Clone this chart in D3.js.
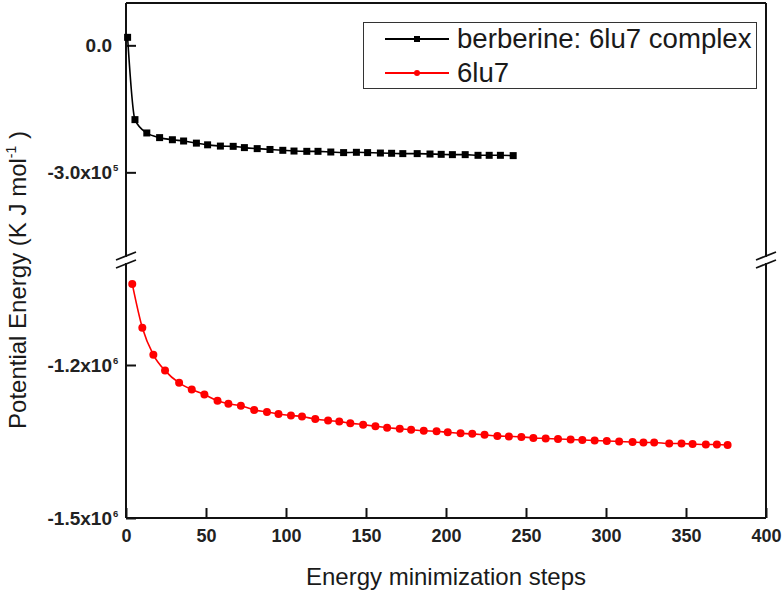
<!DOCTYPE html>
<html>
<head>
<meta charset="utf-8">
<script src="https://cdn.jsdelivr.net/npm/d3@7"></script>
<style>
  html, body { margin: 0; padding: 0; background: #fff; }
  svg { display: block; font-family: "Liberation Sans", Arial, sans-serif; }
</style>
</head>
<body>
<svg id="chart" width="784" height="590"></svg>
<script>
// ---- Data ----
const complexSteps = [1, 5.6, 13, 21, 29, 36, 44, 51, 59, 67, 74, 82, 90, 98, 105, 113, 120, 128, 136, 144, 151, 159, 166, 173, 182, 190, 197, 204, 212, 220, 227, 234, 242];
const complexEnergy = [18900, -175500, -207000, -218000, -223000, -226000, -231000, -235000, -238000, -238600, -241600, -244000, -246000, -248000, -249700, -250400, -250400, -252000, -253400, -252700, -253400, -254400, -255000, -255800, -255800, -256700, -257500, -258200, -258200, -259800, -259800, -259800, -260500];

const proteinSteps = [3.9, 10.2, 17.1, 24.4, 33.2, 41.1, 49, 57.2, 64, 71.8, 80.1, 88.1, 95.3, 103.1, 110, 118.3, 126.3, 133.3, 140.2, 148.2, 155.9, 163.2, 171.1, 178.2, 186.1, 194.1, 201.1, 209.1, 216.4, 224.1, 232.1, 239.3, 247.1, 254.6, 262.3, 270, 277.9, 285.2, 292.9, 300.5, 308.2, 316.6, 323.4, 330.1, 339.5, 347.2, 354.1, 362.4, 369.3, 376];
const proteinEnergy = [-1041000, -1127000, -1180000, -1211000, -1235000, -1248000, -1258000, -1270000, -1276000, -1280000, -1288000, -1292000, -1296000, -1299000, -1301000, -1306000, -1309000, -1311000, -1314000, -1317000, -1320000, -1323000, -1325000, -1327000, -1329000, -1330000, -1332000, -1334000, -1335000, -1337000, -1339000, -1340000, -1341000, -1343000, -1344000, -1345000, -1346000, -1347000, -1348000, -1349000, -1350000, -1351000, -1352000, -1352000, -1354000, -1354000, -1355000, -1356000, -1356000, -1357000];

const xTicks = [0, 50, 100, 150, 200, 250, 300, 350, 400];
const upperTicks = [0, -300000];
const upperTickText = ["0.0", "-3.0x10"];
const upperTickExp = ["", "5"];
const lowerTicks = [-1200000, -1500000];
const lowerTickText = ["-1.2x10", "-1.5x10"];
const lowerTickExp = ["6", "6"];

const seriesNames = ["berberine: 6lu7 complex", "6lu7"];
const xTitle = "Energy minimization steps";

// ---- Layout ----
const L = 126, R = 766, T = 3, B = 518;
const breakTop = 257, breakBot = 263;

const svg = d3.select("#chart");
const x = d3.scaleLinear().domain([0, 400]).range([L, R]);
const yUp = d3.scaleLinear().domain([100000, -500000]).range([T, breakTop]);
const yLo = d3.scaleLinear().domain([-1000000, -1500000]).range([breakBot, B]);

const ink = "#111";

// frame
const frame = svg.append("g").attr("stroke", ink).attr("stroke-width", 2).attr("fill", "none");
frame.append("line").attr("x1", L).attr("x2", R).attr("y1", T).attr("y2", T);
frame.append("line").attr("x1", L).attr("x2", R).attr("y1", B).attr("y2", B);
frame.append("line").attr("x1", L).attr("x2", L).attr("y1", T).attr("y2", breakTop);
frame.append("line").attr("x1", L).attr("x2", L).attr("y1", breakBot).attr("y2", B);
frame.append("line").attr("x1", R).attr("x2", R).attr("y1", T).attr("y2", breakTop);
frame.append("line").attr("x1", R).attr("x2", R).attr("y1", breakBot).attr("y2", B);

// break marks
[L, R].forEach(bx => {
  [breakTop - 1, breakBot + 1].forEach(by => {
    frame.append("line").attr("stroke-width", 1.8)
      .attr("x1", bx - 10).attr("y1", by + 4)
      .attr("x2", bx + 10).attr("y2", by - 4);
  });
});

// x axis (ticks inward)
const xAxis = d3.axisBottom(x).tickValues(xTicks).tickSizeInner(-10).tickSizeOuter(0).tickPadding(11)
  .tickFormat(d3.format("d"));
const gx = svg.append("g").attr("transform", `translate(0,${B})`).call(xAxis);
gx.select(".domain").remove();
gx.selectAll(".tick line").attr("stroke", ink).attr("stroke-width", 2);
gx.selectAll(".tick text").attr("font-family", "Liberation Sans, Arial, sans-serif")
  .attr("font-size", 18).attr("font-weight", "bold").attr("fill", "#222").attr("dy", "0.71em");

// y axes (ticks inward)
function yAxisGroup(scale, ticks, texts, exps) {
  const ax = d3.axisLeft(scale).tickValues(ticks).tickSizeInner(-10).tickSizeOuter(0).tickFormat("");
  const g = svg.append("g").attr("transform", `translate(${L},0)`).call(ax);
  g.select(".domain").remove();
  g.selectAll(".tick line").attr("stroke", ink).attr("stroke-width", 2);
  ticks.forEach((v, i) => {
    const yy = scale(v);
    svg.append("text").attr("x", 112).attr("y", yy + 6.5)
      .attr("text-anchor", "end").attr("font-size", 19).attr("font-weight", "bold").attr("fill", "#222")
      .text(texts[i]);
    if (exps[i]) {
      svg.append("text").attr("x", 113).attr("y", yy - 1)
        .attr("text-anchor", "start").attr("font-size", 9.5).attr("font-weight", "bold").attr("fill", "#222")
        .text(exps[i]);
    }
  });
}
yAxisGroup(yUp, upperTicks, upperTickText, upperTickExp);
yAxisGroup(yLo, lowerTicks, lowerTickText, lowerTickExp);

// series
const complexData = complexSteps.map((s, i) => [s, complexEnergy[i]]);
const proteinData = proteinSteps.map((s, i) => [s, proteinEnergy[i]]);

const lineUp = d3.line().x(d => x(d[0])).y(d => yUp(d[1])).curve(d3.curveMonotoneX);
const lineLo = d3.line().x(d => x(d[0])).y(d => yLo(d[1])).curve(d3.curveMonotoneX);

svg.append("path").datum(complexData).attr("d", lineUp)
  .attr("fill", "none").attr("stroke", "#000").attr("stroke-width", 1.6);
svg.append("g").selectAll("rect").data(complexData).join("rect")
  .attr("x", d => x(d[0]) - 3.5).attr("y", d => yUp(d[1]) - 3.5)
  .attr("width", 7).attr("height", 7).attr("fill", "#000");

svg.append("path").datum(proteinData).attr("d", lineLo)
  .attr("fill", "none").attr("stroke", "#ff0000").attr("stroke-width", 1.6);
svg.append("g").selectAll("circle").data(proteinData).join("circle")
  .attr("cx", d => x(d[0])).attr("cy", d => yLo(d[1])).attr("r", 4).attr("fill", "#ff0000");

// legend
const lg = svg.append("g");
lg.append("rect").attr("x", 363.5).attr("y", 22.5).attr("width", 393).attr("height", 66)
  .attr("fill", "#fff").attr("stroke", "#333").attr("stroke-width", 1);
const legendItems = [
  { name: seriesNames[0], color: "#000", shape: "square", y: 39 },
  { name: seriesNames[1], color: "#ff0000", shape: "circle", y: 73 }
];
legendItems.forEach(it => {
  lg.append("line").attr("x1", 385).attr("x2", 449).attr("y1", it.y).attr("y2", it.y)
    .attr("stroke", it.color).attr("stroke-width", 1.8);
  if (it.shape === "square") {
    lg.append("rect").attr("x", 417 - 3).attr("y", it.y - 3).attr("width", 6).attr("height", 6).attr("fill", it.color);
  } else {
    lg.append("circle").attr("cx", 417).attr("cy", it.y).attr("r", 3).attr("fill", it.color);
  }
  lg.append("text").attr("x", 457).attr("y", it.y + 9).attr("font-size", 27.6).attr("fill", "#1a1a1a")
    .text(it.name);
});

// axis titles
svg.append("text").attr("x", 446).attr("y", 585).attr("text-anchor", "middle")
  .attr("font-size", 24).attr("fill", "#1a1a1a").text(xTitle);

const yt = svg.append("text").attr("transform", "translate(26,280) rotate(-90)")
  .attr("text-anchor", "middle").attr("font-size", 24).attr("fill", "#1a1a1a");
yt.append("tspan").text("Potential Energy (K J mol");
yt.append("tspan").attr("font-size", 14).attr("dy", -10).text("-1");
yt.append("tspan").attr("dy", 10).text(" )");
</script>
</body>
</html>
